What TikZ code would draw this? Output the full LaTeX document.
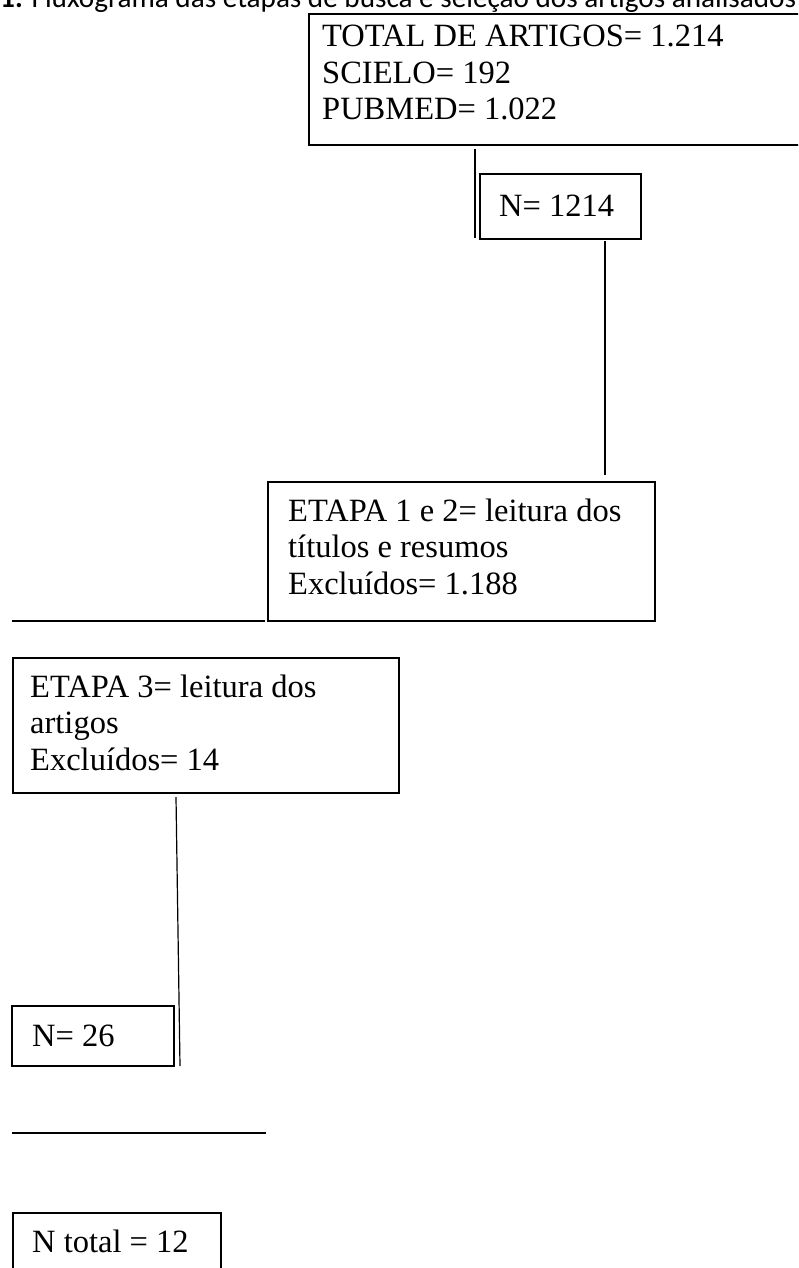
\documentclass[tikz,border=0pt]{standalone}
\usepackage{fontspec}
\setmainfont{Liberation Serif}
\newfontfamily\titlefont{Carlito}
\begin{document}
\begin{tikzpicture}[x=1pt,y=-1pt,
  box/.style={draw=black, line width=2pt, anchor=north west, inner sep=0pt},
  txt/.style={anchor=base west, inner sep=0pt, font=\fontsize{32.5}{36.5}\selectfont},
  link/.style={draw=black, line width=1.2pt}]
\useasboundingbox (0,0) rectangle (798,1268);
\clip (0,0) rectangle (798,1268);
\fill[white] (0,0) rectangle (798,1268);
% title (cut off at the top of the picture, as in the reference)
\node[anchor=base west, inner sep=0pt, font=\titlefont\fontsize{29.2}{32}\selectfont] (title) at (0,8) {\textbf{1.} Fluxograma das etapas de busca e seleção dos artigos analisados};
% boxes
\node[box, minimum width=492, minimum height=131] (b1) at (308,13) {};
\node[txt] (t1) at (322,47) {\begin{tabular}[t]{@{}l@{}}TOTAL DE ARTIGOS= 1.214\\SCIELO= 192\\PUBMED= 1.022\end{tabular}};
\node[box, minimum width=161, minimum height=65] (b2) at (479,173) {};
\node[txt] (t2) at (499,216) {N= 1214};
\node[box, minimum width=387, minimum height=139] (b3) at (267,481) {};
\node[txt] (t3) at (288,521) {\begin{tabular}[t]{@{}l@{}}ETAPA 1 e 2= leitura dos\\títulos e resumos\\Excluídos= 1.188\end{tabular}};
\node[box, minimum width=386, minimum height=135] (b4) at (12,657) {};
\node[txt] (t4) at (30,697) {\begin{tabular}[t]{@{}l@{}}ETAPA 3= leitura dos\\artigos\\Excluídos= 14\end{tabular}};
\node[box, minimum width=162, minimum height=60] (b5) at (11,1005) {};
\node[txt] (t5) at (32,1046) {N= 26};
\node[box, minimum width=208, minimum height=80] (b6) at (12,1212) {};
\node[txt] (t6) at (32,1252) {N total = 12};
% connectors
\coordinate (l1a) at (475,149); \coordinate (l1b) at (475,238);
\coordinate (l2a) at (605,241); \coordinate (l2b) at (605,475);
\coordinate (h1a) at (12,621); \coordinate (h1b) at (265,621);
\coordinate (l3a) at (176,797); \coordinate (l3b) at (180,1066);
\coordinate (h2a) at (12,1133); \coordinate (h2b) at (266,1133);
\draw[link] (l1a) -- (l1b);
\draw[link] (l2a) -- (l2b);
\draw[link] (h1a) -- (h1b);
\draw[link] (l3a) -- (l3b);
\draw[link] (h2a) -- (h2b);
\end{tikzpicture}
\end{document}
